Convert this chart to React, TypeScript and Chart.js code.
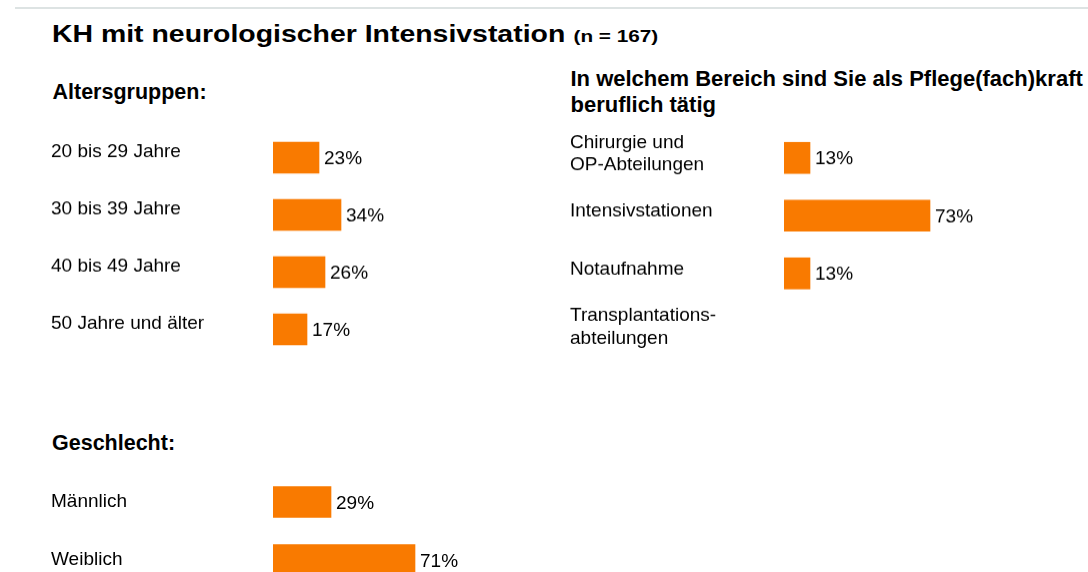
import React, { useEffect, useRef } from "react";
import { Chart, registerables } from "chart.js";

Chart.register(...registerables);

const FONT = '"Liberation Sans", Arial, Helvetica, sans-serif';
const BAR_COLOR = "#F97A00";

const titleMain = "KH mit neurologischer Intensivstation";
const titleN = "(n = 167)";

const ageHeader = "Altersgruppen:";
const ageLabels = ["20 bis 29 Jahre", "30 bis 39 Jahre", "40 bis 49 Jahre", "50 Jahre und älter"];
const ageValues = [23, 34, 26, 17];

const areaHeaderLines = ["In welchem Bereich sind Sie als Pflege(fach)kraft", "beruflich tätig"];
const areaLabels = [["Chirurgie und", "OP-Abteilungen"], "Intensivstationen", "Notaufnahme", ["Transplantations-", "abteilungen"]];
const areaValues = [13, 73, 13, 0];

const genderHeader = "Geschlecht:";
const genderLabels = ["Männlich", "Weiblich"];
const genderValues = [29, 71];

const LABEL_SIZE = 19;

const valueLabelPlugin = {
  id: "valueLabels",
  afterDatasetsDraw(chart: any) {
    const ctx = chart.ctx;
    const meta = chart.getDatasetMeta(0);
    const data = chart.data.datasets[0].data;
    ctx.save();
    ctx.font = `${LABEL_SIZE}px ${FONT}`;
    ctx.fillStyle = "#000";
    ctx.textAlign = "left";
    ctx.textBaseline = "middle";
    meta.data.forEach((bar: any, i: number) => {
      const v = data[i];
      if (!v) return;
      ctx.fillText(`${v}%`, bar.x + 5, bar.y + 1.5);
    });
    ctx.restore();
  },
};

type GroupProps = {
  labels: (string | string[])[];
  values: number[];
  left: number;
  top: number;
  height: number;
  axisWidth: number;
  labelOffset: number;
};

function BarGroup({ labels, values, left, top, height, axisWidth, labelOffset }: GroupProps) {
  const ref = useRef<HTMLCanvasElement | null>(null);
  const width = axisWidth + 200 + 70;
  useEffect(() => {
    if (!ref.current) return;
    const chart = new Chart(ref.current, {
      type: "bar",
      data: {
        labels,
        datasets: [
          {
            data: values,
            backgroundColor: (c: any) => (c.raw > 0 ? BAR_COLOR : "rgba(0,0,0,0)"),
            borderWidth: 0,
            barThickness: 31,
          },
        ],
      },
      options: {
        indexAxis: "y",
        responsive: false,
        animation: false,
        layout: { padding: { left: 0, right: 70, top: 0, bottom: 0 } },
        plugins: {
          legend: { display: false },
          tooltip: { enabled: false },
          title: { display: false },
        },
        scales: {
          x: {
            display: false,
            min: 0,
            max: 100,
          },
          y: {
            grid: { display: false },
            border: { display: false },
            afterFit: (scale: any) => {
              scale.width = axisWidth;
              scale.paddingTop = 0;
              scale.paddingBottom = 0;
            },
            ticks: {
              crossAlign: "far",
              autoSkip: false,
              padding: 0,
              labelOffset,
              color: "#000",
              font: { family: FONT, size: LABEL_SIZE, lineHeight: 1.16 },
            },
          },
        },
      },
      plugins: [valueLabelPlugin],
    } as any);
    return () => chart.destroy();
  }, []);
  return (
    <canvas
      ref={ref}
      width={width}
      height={height}
      style={{ position: "absolute", left, top, width, height }}
    />
  );
}

const headerStyle: React.CSSProperties = {
  position: "absolute",
  fontFamily: FONT,
  fontWeight: "bold",
  fontSize: 21.5,
  color: "#000",
  whiteSpace: "nowrap",
  margin: 0,
};

export default function App() {
  return (
    <div
      style={{
        position: "absolute",
        left: 0,
        top: 0,
        width: 1088,
        height: 572,
        overflow: "hidden",
        background: "#fff",
        fontFamily: FONT,
      }}
    >
      <div style={{ position: "absolute", left: 15, right: 0, top: 7, height: 2, background: "#dde3e3" }} />
      <div
        style={{
          position: "absolute",
          left: 52,
          top: 19.5,
          fontFamily: FONT,
          fontWeight: "bold",
          fontSize: 23.3,
          lineHeight: "28px",
          whiteSpace: "nowrap",
          transform: "scaleX(1.22)",
          transformOrigin: "0 0",
          color: "#000",
        }}
      >
        <span>{titleMain}</span>
        <span style={{ fontSize: 17, marginLeft: 2 }}> {titleN}</span>
      </div>

      <div style={{ ...headerStyle, left: 52.5, top: 78.85, lineHeight: "26px" }}>{ageHeader}</div>
      <div style={{ ...headerStyle, left: 570.5, top: 65.5, fontSize: 22, lineHeight: "26.7px" }}>
        {areaHeaderLines[0]}
        <br />
        {areaHeaderLines[1]}
      </div>
      <div style={{ ...headerStyle, left: 52, top: 430.25, lineHeight: "26px" }}>{genderHeader}</div>

      <BarGroup labels={ageLabels} values={ageValues} left={51} top={128.9} height={228.8} axisWidth={222} labelOffset={-6} />
      <BarGroup labels={areaLabels} values={areaValues} left={570} top={129.15} height={230.8} axisWidth={214} labelOffset={-4} />
      <BarGroup labels={genderLabels} values={genderValues} left={51} top={473} height={116} axisWidth={222} labelOffset={0} />
    </div>
  );
}
